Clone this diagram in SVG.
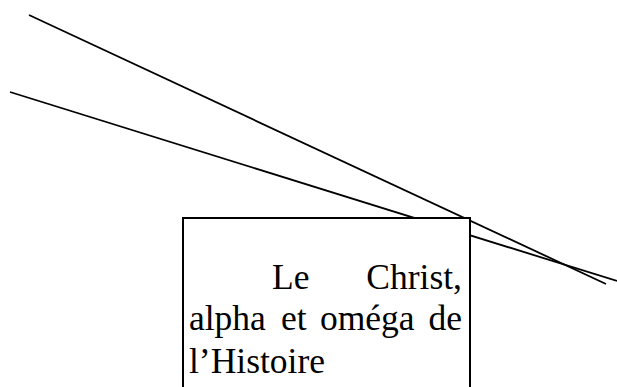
<svg xmlns="http://www.w3.org/2000/svg" width="617" height="387" viewBox="0 0 617 387">
  <style>
    .ln { stroke: #000; stroke-width: 1.8; fill: none; }
    .box { fill: #fff; stroke: #000; stroke-width: 2; }
    .t { font-family: "Liberation Serif", "Times New Roman", serif; font-size: 35.5px; fill: #000; }
  </style>
  <g id="connectors">
    <line class="ln" x1="29" y1="15" x2="606" y2="284"/>
    <line class="ln" x1="10" y1="92" x2="617" y2="281"/>
  </g>
  <g id="node-christ">
    <path class="box" d="M183 390 V218 H470 V390"/>
    <text class="t" x="272" y="289">Le</text>
    <text class="t" x="462" y="289" text-anchor="end">Christ,</text>
    <text class="t" y="330"><tspan x="189">alpha</tspan><tspan x="281">et</tspan><tspan x="320">oméga</tspan><tspan x="462" text-anchor="end">de</tspan></text>
    <text class="t" x="189" y="373">l’Histoire</text>
  </g>
</svg>
